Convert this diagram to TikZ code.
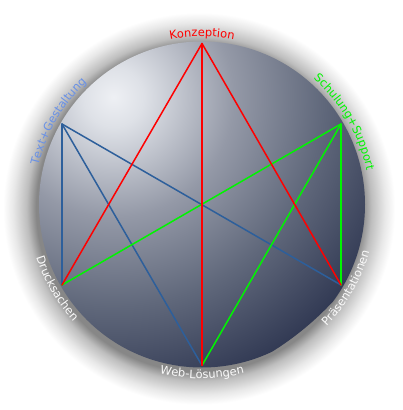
\documentclass[tikz,border=0pt]{standalone}
\usepackage{fontspec}
\setmainfont{DejaVu Sans}
\usetikzlibrary{decorations.text}
\tikzset{
  every node/.style={inner sep=2pt}
}
\definecolor{sphereHigh}{RGB}{238, 240, 244}
\definecolor{sphereLight}{RGB}{222, 225, 231}
\definecolor{sphereMid}{RGB}{148, 153, 167}
\definecolor{sphereLow}{RGB}{96, 104, 123}
\definecolor{sphereDark}{RGB}{50, 58, 84}
\definecolor{haloGray}{RGB}{135, 135, 135}
\definecolor{haloSoft}{RGB}{190, 190, 190}
\definecolor{haloFaint}{RGB}{232, 232, 232}
\definecolor{konzRed}{RGB}{255, 0, 0}
\definecolor{textBlue}{RGB}{45, 95, 155}
\definecolor{textBlueLabel}{RGB}{105, 145, 230}
\definecolor{schulGreen}{RGB}{0, 245, 0}
\definecolor{labelWhite}{RGB}{250, 250, 250}

\pgfdeclareradialshading{sphereShade}{\pgfpointorigin}{color(0bp)=(sphereHigh); color(2.5bp)=(sphereLight); color(10bp)=(sphereMid); color(17.5bp)=(sphereLow); color(25bp)=(sphereDark); color(50bp)=(sphereDark)}
\pgfdeclareradialshading{haloShade}{\pgfpointorigin}{color(0bp)=(haloGray); color(20.8bp)=(haloGray); color(22bp)=(haloSoft); color(23.7bp)=(haloFaint); color(25bp)=(white); color(50bp)=(white)}

\newcommand{\circLabelFont}{\fontsize{11.5}{13}\selectfont}

\begin{document}
\begin{tikzpicture}[
    x=1pt, y=1pt,
    link/.style={line width=1.5pt, line cap=round},
    arcLabel/.style 2 args={decorate, decoration={text along path, text={|\circLabelFont|#1}, text color=#2, text align=center}}
]

    \fill[white] (-202,-205.5) rectangle (200,204.5);
    \useasboundingbox (-202,-205.5) rectangle (200,204.5);

    % shadow and sphere
    \shade[shading=haloShade] (-3,-4) circle (196);
    \begin{scope}
        \clip (0,0) circle (163);
        \shade[shading=sphereShade] (-88.5,107.5) circle (300);
    \end{scope}

    \coordinate (konz) at (0,161);
    \coordinate (gestalt) at (-140,80.5);
    \coordinate (druck) at (-140,-80.5);
    \coordinate (web) at (0,-161);
    \coordinate (praes) at (139,-80.5);
    \coordinate (schul) at (139,80.5);

    \draw[link, textBlue] (gestalt) -- (druck);
    \draw[link, textBlue] (gestalt) -- (web);
    \draw[link, textBlue] (gestalt) -- (praes);

    \draw[link, schulGreen] (schul) -- (druck);
    \draw[link, schulGreen] (schul) -- (web);
    \draw[link, schulGreen] (schul) -- (praes);

    \draw[link, konzRed] (konz) -- (druck);
    \draw[link, konzRed] (konz) -- (praes);
    \draw[link, konzRed] (konz) -- (web);

    % labels along the rim
    \path[arcLabel={Konzeption}{konzRed}] (120:168) arc[start angle=120, end angle=60, radius=168];
    \path[arcLabel={Text{+}Gestaltung}{textBlueLabel}] (185:168) arc[start angle=185, end angle=115, radius=168];
    \path[arcLabel={Schulung{+}Support}{schulGreen}] (65:168) arc[start angle=65, end angle=-5, radius=168];
    \path[arcLabel={Drucksachen}{labelWhite}] (175:174) arc[start angle=175, end angle=245, radius=174];
    \path[arcLabel={Web-Lösungen}{labelWhite}] (235:174) arc[start angle=235, end angle=305, radius=174];
    \path[arcLabel={Präsentationen}{labelWhite}] (295:174) arc[start angle=295, end angle=365, radius=174];

\end{tikzpicture}
\end{document}
